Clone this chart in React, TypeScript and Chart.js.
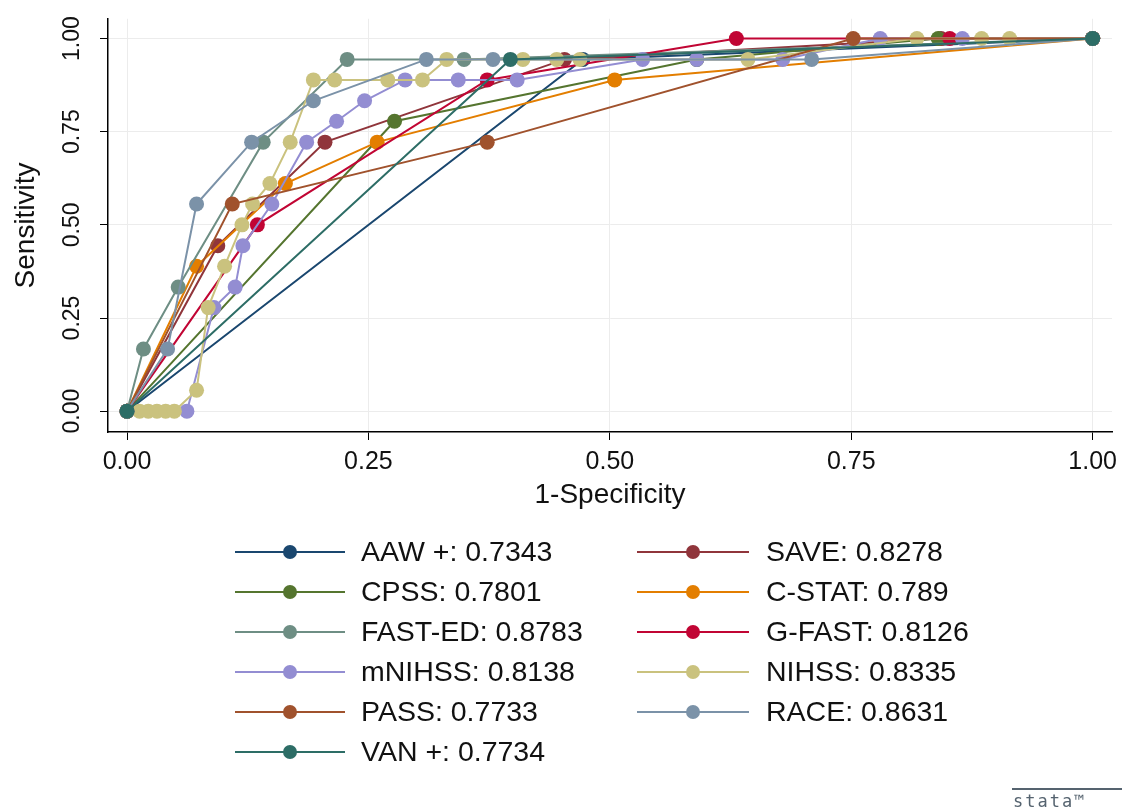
import React, { useEffect, useRef } from 'react';
import { Chart, registerables } from 'chart.js';

Chart.register(...registerables);

// ---- Data ----
const seriesNames = ['AAW +', 'SAVE', 'CPSS', 'C-STAT', 'FAST-ED', 'G-FAST', 'mNIHSS', 'NIHSS', 'PASS', 'RACE', 'VAN +'];
const aucLabels = ['0.7343', '0.8278', '0.7801', '0.789', '0.8783', '0.8126', '0.8138', '0.8335', '0.7733', '0.8631', '0.7734'];
const seriesColors = ['#1a476f', '#90353b', '#55752f', '#e37e00', '#6e8e84', '#c10534', '#938dd2', '#cac27e', '#a0522d', '#7b92a8', '#2d6d66'];

const aawX = [0, 0.472, 1];
const aawY = [0, 0.944, 1];
const saveX = [0, 0.094, 0.205, 0.453, 0.843, 1];
const saveY = [0, 0.444, 0.722, 0.944, 1, 1];
const cpssX = [0, 0.277, 0.59, 0.84, 1];
const cpssY = [0, 0.778, 0.944, 1, 1];
const cstatX = [0, 0.072, 0.164, 0.259, 0.505, 1];
const cstatY = [0, 0.389, 0.611, 0.722, 0.889, 1];
const fastedX = [0, 0.017, 0.053, 0.141, 0.228, 0.349, 1];
const fastedY = [0, 0.167, 0.333, 0.722, 0.944, 0.944, 1];
const gfastX = [0, 0.135, 0.373, 0.631, 0.852, 1];
const gfastY = [0, 0.5, 0.889, 1, 1, 1];
const mnihssX = [0, 0.062, 0.09, 0.112, 0.12, 0.15, 0.186, 0.217, 0.246, 0.288, 0.343, 0.404, 0.534, 0.59, 0.679, 0.78, 0.865, 1];
const mnihssY = [0, 0, 0.278, 0.333, 0.444, 0.556, 0.722, 0.778, 0.833, 0.889, 0.889, 0.889, 0.944, 0.944, 0.944, 1, 1, 1];
const nihssX = [0, 0.013, 0.022, 0.031, 0.04, 0.049, 0.072, 0.084, 0.101, 0.119, 0.13, 0.148, 0.169, 0.193, 0.215, 0.27, 0.306, 0.331, 0.41, 0.445, 0.469, 0.643, 0.818, 0.885, 0.914, 1];
const nihssY = [0, 0, 0, 0, 0, 0, 0.056, 0.278, 0.389, 0.5, 0.556, 0.611, 0.722, 0.889, 0.889, 0.889, 0.889, 0.944, 0.944, 0.944, 0.944, 0.944, 1, 1, 1, 1];
const passX = [0, 0.109, 0.373, 0.752, 1];
const passY = [0, 0.556, 0.722, 1, 1];
const raceX = [0, 0.042, 0.072, 0.129, 0.193, 0.31, 0.379, 0.709, 1];
const raceY = [0, 0.167, 0.556, 0.722, 0.833, 0.944, 0.944, 0.944, 1];
const vanX = [0, 0.397, 1];
const vanY = [0, 0.944, 1];

const seriesX = [aawX, saveX, cpssX, cstatX, fastedX, gfastX, mnihssX, nihssX, passX, raceX, vanX];
const seriesY = [aawY, saveY, cpssY, cstatY, fastedY, gfastY, mnihssY, nihssY, passY, raceY, vanY];

const axisTicks = [0, 0.25, 0.5, 0.75, 1];
const xTitle = '1-Specificity';
const yTitle = 'Sensitivity';

const FONT = '"Liberation Sans", Arial, sans-serif';

const legendPlugin = {
  id: 'stataLegend',
  afterDraw(chart: any) {
    const ctx = chart.ctx;
    ctx.save();
    const colLine = [[235, 345], [637, 749]];
    const colText = [361, 766];
    seriesNames.forEach((name, k) => {
      const col = k % 2;
      const row = Math.floor(k / 2);
      const y = 552 + row * 40;
      const color = seriesColors[k];
      ctx.strokeStyle = color;
      ctx.lineWidth = 2;
      ctx.beginPath();
      ctx.moveTo(colLine[col][0], y);
      ctx.lineTo(colLine[col][1], y);
      ctx.stroke();
      ctx.fillStyle = color;
      ctx.beginPath();
      ctx.arc((colLine[col][0] + colLine[col][1]) / 2, y, 7, 0, Math.PI * 2);
      ctx.fill();
      ctx.fillStyle = '#111';
      ctx.font = `28.5px ${FONT}`;
      ctx.textAlign = 'left';
      ctx.textBaseline = 'middle';
      ctx.fillText(`${name}: ${aucLabels[k]}`, colText[col], y + 1);
    });
    // stata logo
    ctx.strokeStyle = '#55636f';
    ctx.lineWidth = 2;
    ctx.beginPath();
    ctx.moveTo(1012, 789);
    ctx.lineTo(1122, 789);
    ctx.stroke();
    ctx.fillStyle = '#55636f';
    ctx.font = `17px "DejaVu Sans Mono", monospace`;
    (ctx as any).letterSpacing = '2px';
    ctx.textAlign = 'left';
    ctx.textBaseline = 'alphabetic';
    ctx.fillText('stata™', 1013, 807);
    ctx.restore();
  },
};

export default function App() {
  const canvasRef = useRef<HTMLCanvasElement | null>(null);

  useEffect(() => {
    if (!canvasRef.current) return;
    const n = seriesNames.length;
    const datasets = seriesNames.map((name, i) => ({
      label: `${name}: ${aucLabels[i]}`,
      data: seriesX[i].map((x, j) => ({ x, y: seriesY[i][j] })),
      showLine: true,
      borderColor: seriesColors[i],
      backgroundColor: seriesColors[i],
      pointBackgroundColor: seriesColors[i],
      pointBorderColor: seriesColors[i],
      pointRadius: 7.5,
      pointBorderWidth: 0,
      borderWidth: 2,
      order: n - 1 - i,
    }));

    const chart = new Chart(canvasRef.current, {
      type: 'scatter',
      data: { datasets },
      options: {
        animation: false,
        responsive: false,
        devicePixelRatio: 1,
        layout: { padding: { top: 15, right: 13, bottom: 300, left: 0 } },
        plugins: { legend: { display: false }, tooltip: { enabled: false } },
        scales: {
          x: {
            type: 'linear',
            min: -0.0197,
            max: 1.02,
            afterBuildTicks: (s: any) => { s.ticks = axisTicks.map((v) => ({ value: v })); },
            afterFit: (s: any) => { s.height = 80; },
            ticks: {
              callback: (v: any) => Number(v).toFixed(2),
              font: { size: 25, family: FONT },
              color: '#111',
              padding: 7,
              maxRotation: 0,
              minRotation: 0,
            },
            grid: { color: '#ececec', tickColor: '#000', tickLength: 8, lineWidth: 1 },
            border: { color: '#000', width: 1.5 },
            title: { display: true, text: xTitle, font: { size: 28, family: FONT }, color: '#111', padding: { top: 4, bottom: 0 } },
          },
          y: {
            type: 'linear',
            min: -0.0559,
            max: 1.053,
            afterBuildTicks: (s: any) => { s.ticks = axisTicks.map((v) => ({ value: v })); },
            afterFit: (s: any) => { s.width = 108; },
            ticks: {
              callback: (v: any) => Number(v).toFixed(2),
              font: { size: 23, family: FONT },
              color: '#111',
              padding: 5,
              minRotation: 90,
              maxRotation: 90,
              crossAlign: 'center',
            },
            grid: { color: '#ececec', tickColor: '#000', tickLength: 8, lineWidth: 1 },
            border: { color: '#000', width: 1.5 },
            title: { display: true, text: yTitle, font: { size: 28, family: FONT }, color: '#111', padding: { top: 9, bottom: 0 } },
          },
        },
      },
      plugins: [legendPlugin],
    });
    return () => chart.destroy();
  }, []);

  return (
    <div style={{ position: 'fixed', left: 0, top: 0, width: 1125, height: 812, background: '#fff' }}>
      <canvas ref={canvasRef} width={1125} height={812} />
    </div>
  );
}
